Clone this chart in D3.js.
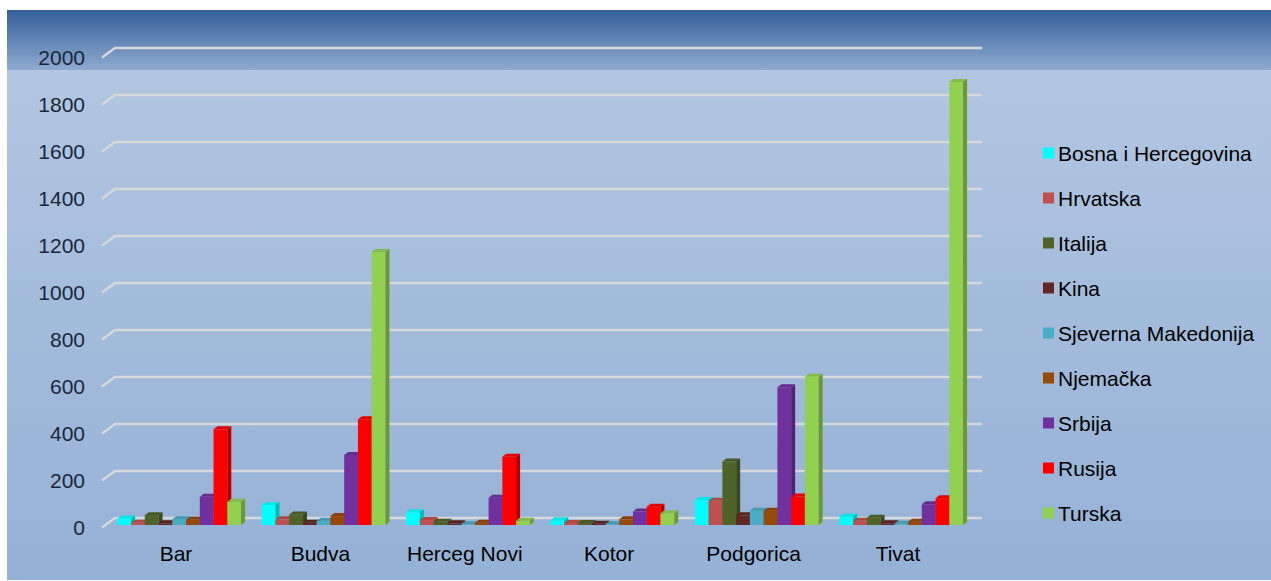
<!DOCTYPE html>
<html>
<head>
    <meta charset="utf-8">
    <title>Turisti po gradovima</title>
    <style>
        body {
            margin: 0;
            background: #fff;
            font-family: Arial, "Liberation Sans", sans-serif;
        }
        svg { display: block; }
    </style>
</head>
<body>
    <script src="https://cdn.jsdelivr.net/npm/d3@7/dist/d3.min.js"></script>
    <script>
        // Data
        var cities = ["Bar", "Budva", "Herceg Novi", "Kotor", "Podgorica", "Tivat"];
        var countries = ["Bosna i Hercegovina", "Hrvatska", "Italija", "Kina",
            "Sjeverna Makedonija", "Njemačka", "Srbija", "Rusija", "Turska"];
        var colors = ["#00ffff", "#c0504d", "#4f6228", "#632523",
            "#4bacc6", "#984807", "#7030a0", "#ff0000", "#92d050"];

        // one array per country, values in city order
        var bosna     = [28, 85, 54, 20, 106, 35];
        var hrvatska  = [10, 24, 21, 9, 103, 18];
        var italija   = [42, 45, 14, 9, 270, 31];
        var kina      = [7, 10, 7, 5, 41, 7];
        var makedonija = [25, 18, 3, 3, 61, 5];
        var njemacka  = [22, 38, 10, 24, 61, 14];
        var srbija    = [120, 298, 116, 57, 586, 88];
        var rusija    = [407, 450, 290, 78, 121, 114];
        var turska    = [99, 1162, 18, 50, 631, 1885];
        var series = [bosna, hrvatska, italija, kina, makedonija, njemacka, srbija, rusija, turska];

        var yTicks = [0, 200, 400, 600, 800, 1000, 1200, 1400, 1600, 1800, 2000];

        var width = 1271, height = 581;
        var svg = d3.select("body").append("svg")
            .attr("width", width)
            .attr("height", height);

        var defs = svg.append("defs");
        var gBanner = defs.append("linearGradient").attr("id", "banner")
            .attr("x1", 0).attr("y1", 0).attr("x2", 0).attr("y2", 1);
        gBanner.append("stop").attr("offset", "0%").attr("stop-color", "#35609a");
        gBanner.append("stop").attr("offset", "100%").attr("stop-color", "#8eaad0");
        var gBody = defs.append("linearGradient").attr("id", "body")
            .attr("x1", 0).attr("y1", 0).attr("x2", 0).attr("y2", 1);
        gBody.append("stop").attr("offset", "0%").attr("stop-color", "#b2c6e1");
        gBody.append("stop").attr("offset", "100%").attr("stop-color", "#94b1d6");

        // panel background
        svg.append("rect").attr("x", 7).attr("y", 69).attr("width", width - 7).attr("height", 511)
            .attr("fill", "url(#body)");
        svg.append("rect").attr("x", 7).attr("y", 10).attr("width", width - 7).attr("height", 60)
            .attr("fill", "url(#banner)");

        // scales
        var y = d3.scaleLinear().domain([0, 2000]).range([525, 55]);
        var x0 = d3.scaleBand().domain(cities).range([106.8, 973.2]);
        var x1 = d3.scaleBand().domain(d3.range(countries.length)).range([10.5, 10.5 + 123.75]);

        var depthX = 4, depthY = 3;

        // gridlines on back wall with slanted left end
        var grid = svg.append("g").attr("fill", "none")
            .attr("stroke", "#d6d8da").attr("stroke-width", 2.4);
        yTicks.forEach(function(t) {
            var yb = y(t) - 7;
            grid.append("path")
                .attr("d", "M102," + (yb + 9.5) + "L115," + yb + "L982," + yb);
        });

        // y labels
        svg.append("g").selectAll("text")
            .data(yTicks)
            .enter().append("text")
            .attr("x", 85)
            .attr("y", function(d) { return y(d) + 2.5; })
            .attr("dy", "0.36em")
            .attr("text-anchor", "end")
            .attr("font-size", 21)
            .attr("fill", "#17283a")
            .text(function(d) { return d; });

        // 3D-ish bars
        var bars = svg.append("g");
        cities.forEach(function(city, ci) {
            series.forEach(function(vals, si) {
                var v = vals[ci];
                var bx = x0(city) + x1(si);
                var bw = x1.bandwidth();
                var top = y(v), base = y(0);
                var c = d3.color(colors[si]);
                var g = bars.append("g");
                g.append("rect")
                    .attr("x", bx).attr("y", top)
                    .attr("width", bw).attr("height", base - top)
                    .attr("fill", colors[si]);
                g.append("path")
                    .attr("d", "M" + bx + "," + top + "L" + (bx + depthX) + "," + (top - depthY) +
                        "L" + (bx + bw + depthX) + "," + (top - depthY) + "L" + (bx + bw) + "," + top + "Z")
                    .attr("fill", c.darker(0.3));
                g.append("path")
                    .attr("d", "M" + (bx + bw) + "," + top + "L" + (bx + bw + depthX) + "," + (top - depthY) +
                        "L" + (bx + bw + depthX) + "," + (base - depthY) + "L" + (bx + bw) + "," + base + "Z")
                    .attr("fill", c.darker(0.9));
            });
        });

        // category labels
        svg.append("g").selectAll("text")
            .data(cities)
            .enter().append("text")
            .attr("x", function(d) { return x0(d) + x0.bandwidth() / 2 - 3; })
            .attr("y", 553)
            .attr("dy", "0.36em")
            .attr("text-anchor", "middle")
            .attr("font-size", 21)
            .attr("fill", "#000")
            .text(function(d) { return d; });

        // legend
        var legend = svg.append("g").selectAll("g")
            .data(countries)
            .enter().append("g")
            .attr("transform", function(d, i) { return "translate(1043," + (153 + i * 45) + ")"; });
        legend.append("rect")
            .attr("x", 0).attr("y", -5.5)
            .attr("width", 11).attr("height", 11)
            .attr("fill", function(d, i) { return colors[i]; });
        legend.append("text")
            .attr("x", 15)
            .attr("y", 0)
            .attr("dy", "0.36em")
            .attr("font-size", 21)
            .attr("fill", "#000")
            .text(function(d) { return d; });
    </script>
</body>
</html>
